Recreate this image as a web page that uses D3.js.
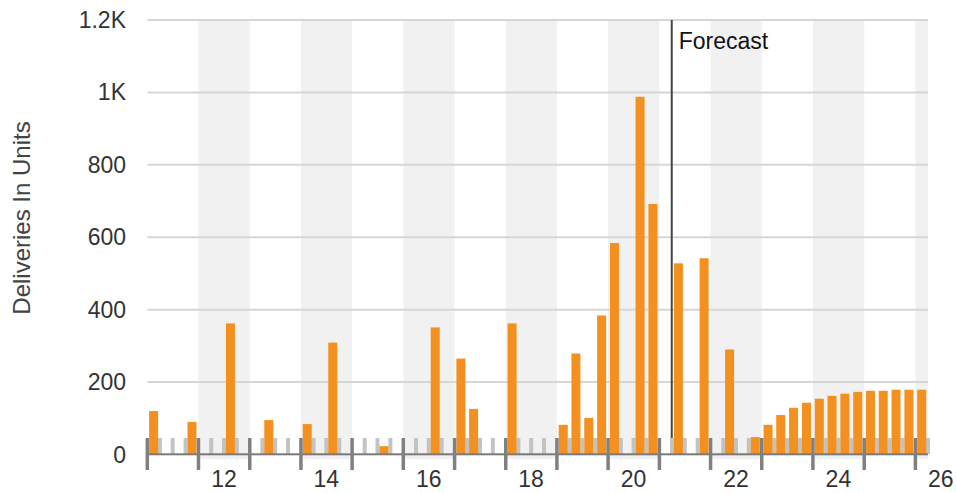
<!DOCTYPE html>
<html>
<head>
<meta charset="utf-8">
<script src="https://cdn.jsdelivr.net/npm/d3@7"></script>
<style>
  html, body { margin: 0; padding: 0; background: #fff; }
  svg { display: block; font-family: "Liberation Sans", Arial, Helvetica, sans-serif; }
</style>
</head>
<body>
<svg id="chart" width="956" height="493"></svg>
<script>
// ---- data ----
const quarters = [
  "2011-01","2011-10","2012-07","2013-04","2014-01","2014-07","2015-07","2016-07",
  "2017-01","2017-04","2018-01","2019-01","2019-04","2019-07","2019-10","2020-01",
  "2020-07","2020-10","2021-04","2021-10","2022-04","2022-10",
  "2023-01","2023-04","2023-07","2023-10","2024-01","2024-04","2024-07","2024-10",
  "2025-01","2025-04","2025-07","2025-10","2026-01"
];
const deliveries = [
  120, 90, 362, 95, 84, 309, 23, 351,
  265, 126, 362, 82, 279, 101, 384, 584,
  988, 692, 528, 542, 290, 48,
  82, 109, 129, 143, 154, 162, 168, 173,
  176, 176, 179, 179, 179
];
const yTicks = [0, 200, 400, 600, 800, 1000, 1200];
const yTickLabels = ["0", "200", "400", "600", "800", "1K", "1.2K"];
const xLabelYears = [2012, 2014, 2016, 2018, 2020, 2022, 2024, 2026];
const xLabels = ["12", "14", "16", "18", "20", "22", "24", "26"];
const forecastDate = "2021-03-30";
const forecastLabel = "Forecast";
const yTitle = "Deliveries In Units";

// ---- layout ----
const parse = d3.utcParse("%Y-%m");
const pLeft = 147.3, pRight = 928, pTop = 20, pBottom = 454.5;
const x = d3.scaleUtc()
  .domain([new Date(Date.UTC(2011, 0, 1)), new Date(Date.UTC(2026, 3, 1))])
  .range([pLeft, pRight]);
const y = d3.scaleLinear().domain([0, 1200]).range([pBottom, pTop]);

const svg = d3.select("#chart");
const font = 23;

// alternating year bands (even years shaded)
const years = d3.range(2011, 2027);
svg.append("g").selectAll("rect")
  .data(years.filter(yr => yr % 2 === 0))
  .join("rect")
  .attr("x", yr => x(new Date(Date.UTC(yr, 0, 1))))
  .attr("width", yr => Math.min(pRight, x(new Date(Date.UTC(yr + 1, 0, 1)))) - x(new Date(Date.UTC(yr, 0, 1))))
  .attr("y", pTop)
  .attr("height", 459 - pTop)
  .attr("fill", "#f1f1f1");

// gridlines
svg.append("g").selectAll("line")
  .data(yTicks.filter(v => v > 0))
  .join("line")
  .attr("x1", pLeft).attr("x2", pRight)
  .attr("y1", d => y(d)).attr("y2", d => y(d))
  .attr("stroke", "#d6d6d6").attr("stroke-width", 2);

// y labels
svg.append("g").selectAll("text")
  .data(yTicks)
  .join("text")
  .attr("x", 126)
  .attr("y", d => y(d))
  .attr("dy", "0.35em")
  .attr("text-anchor", "end")
  .attr("font-size", font)
  .attr("fill", "#333")
  .text((d, i) => yTickLabels[i]);

// y title
svg.append("text")
  .attr("transform", "translate(30,218) rotate(-90)")
  .attr("text-anchor", "middle")
  .attr("font-size", 24)
  .attr("fill", "#444")
  .text(yTitle);

// light quarter ticks
const qTicks = x.ticks(d3.utcMonth.every(3)).filter(d => d.getUTCMonth() !== 0);
svg.append("g").selectAll("rect")
  .data(qTicks)
  .join("rect")
  .attr("x", d => x(d) - 2)
  .attr("width", 4)
  .attr("y", 438)
  .attr("height", 16)
  .attr("fill", "#c3c3c3");

// bars
const bw = 9;
svg.append("g").selectAll("rect")
  .data(quarters.map((q, i) => ({ d: parse(q), v: deliveries[i] })))
  .join("rect")
  .attr("x", d => {
    const x0 = x(d.d), x1 = x(d3.utcMonth.offset(d.d, 3));
    return (x0 + x1) / 2 - bw / 2;
  })
  .attr("width", bw)
  .attr("y", d => y(d.v))
  .attr("height", d => y(0) - y(d.v))
  .attr("fill", "#f39020");

// axis line
svg.append("rect")
  .attr("x", pLeft - 1).attr("width", pRight - pLeft + 1)
  .attr("y", 453.3).attr("height", 2)
  .attr("fill", "#7a7a7a");

// dark year ticks
svg.append("g").selectAll("rect")
  .data(years.map(yr => new Date(Date.UTC(yr, 0, 1))))
  .join("rect")
  .attr("x", d => x(d) - 1.75)
  .attr("width", 3.5)
  .attr("y", 438)
  .attr("height", 32)
  .attr("fill", "#808080");

// x labels
svg.append("g").selectAll("text")
  .data(xLabelYears)
  .join("text")
  .attr("x", yr => x(new Date(Date.UTC(yr, 6, 1))))
  .attr("y", 486.5)
  .attr("text-anchor", "middle")
  .attr("font-size", font)
  .attr("fill", "#333")
  .text((yr, i) => xLabels[i]);

// forecast marker
const fx = x(d3.utcParse("%Y-%m-%d")(forecastDate));
svg.append("line")
  .attr("x1", fx).attr("x2", fx)
  .attr("y1", pTop).attr("y2", 438)
  .attr("stroke", "#444").attr("stroke-width", 2);
svg.append("text")
  .attr("x", fx + 7)
  .attr("y", 49)
  .attr("font-size", font)
  .attr("fill", "#111")
  .text(forecastLabel);
</script>
</body>
</html>
